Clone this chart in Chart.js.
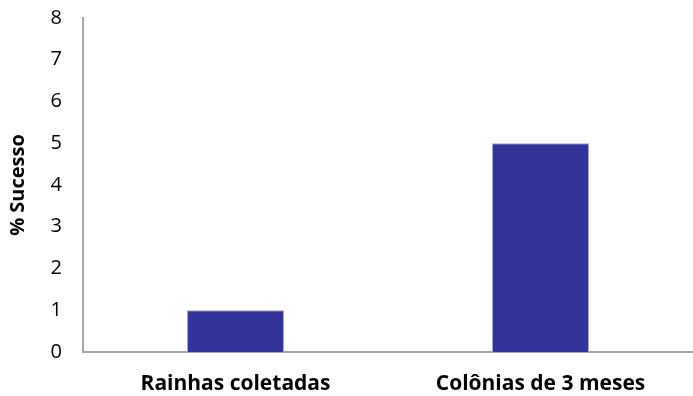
<!DOCTYPE html>
<html>
<head>
<meta charset="utf-8">
<script src="https://cdn.jsdelivr.net/npm/chart.js@4/dist/chart.umd.min.js"></script>
<style>
  html, body { margin: 0; padding: 0; background: #fff; }
  #wrap { width: 693px; height: 396px; position: relative; }
</style>
</head>
<body>
<div id="wrap"><canvas id="c"></canvas></div>
<script>
const categories = ['Rainhas coletadas', 'Colônias de 3 meses'];
const sucesso = [1, 5];
const yTicks = [0, 1, 2, 3, 4, 5, 6, 7, 8];

const FONT = '"Open Sans", "Liberation Sans", sans-serif';

new Chart(document.getElementById('c'), {
  type: 'bar',
  data: {
    labels: categories,
    datasets: [{
      data: sucesso,
      backgroundColor: '#333399',
      borderColor: '#a3a3d6',
      borderWidth: 1,
      categoryPercentage: 1,
      barPercentage: 0.318
    }]
  },
  options: {
    responsive: true,
    maintainAspectRatio: false,
    animation: false,
    layout: { padding: { top: 18, right: 0, bottom: 0, left: 0 } },
    plugins: { legend: { display: false }, tooltip: { enabled: false } },
    scales: {
      x: {
        afterFit: axis => { axis.height = 44; },
        grid: { display: false, drawTicks: false },
        border: { color: '#a6a6a6', width: 2 },
        ticks: {
          color: '#000',
          padding: 19,
          font: { family: FONT, size: 21, weight: 'bold' }
        }
      },
      y: {
        min: 0,
        max: 8,
        afterBuildTicks: axis => { axis.ticks = yTicks.map(v => ({ value: v })); },
        afterFit: axis => { axis.width = 83; axis.paddingTop = 0; axis.paddingBottom = 0; },
        grid: { display: false, drawOnChartArea: false, drawTicks: true, tickLength: 7, color: '#a6a6a6' },
        border: { color: '#a6a6a6', width: 2 },
        ticks: {
          color: '#000',
          padding: 14,
          font: { family: FONT, size: 20, lineHeight: 1 }
        },
        title: {
          display: true,
          text: '% Sucesso',
          color: '#000',
          padding: { top: 6, bottom: 0 },
          font: { family: FONT, size: 20, weight: 'bold' }
        }
      }
    }
  }
});
</script>
</body>
</html>
